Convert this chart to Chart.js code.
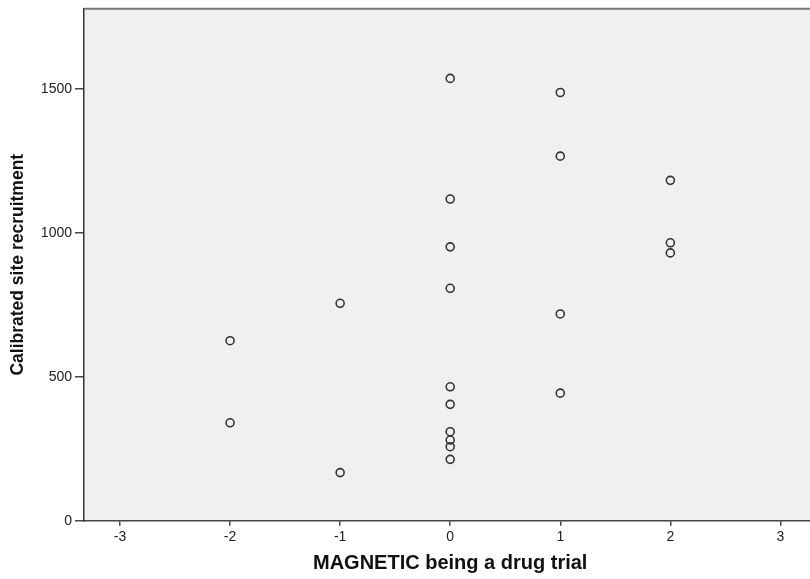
<!DOCTYPE html>
<html><head><meta charset="utf-8">
<script src="https://cdn.jsdelivr.net/npm/chart.js@4"></script>
<style>html,body{margin:0;padding:0;background:#fff;overflow:hidden}#wrap{width:822px;height:579px;overflow:hidden}</style>
</head><body><div id="wrap"><canvas id="c" width="822" height="579"></canvas></div>
<script>
const trialValues = [-2,-2,-1,-1,0,0,0,0,0,0,0,0,0,0,1,1,1,1,2,2,2];
const recruitment = [625,340,755,167,1536,1117,951,807,465,404,309,280,257,213,1487,1266,718,443,1182,965,930];
const xTicks = [-3,-2,-1,0,1,2,3];
const yTicks = [0,500,1000,1500];

const points = trialValues.map((x,i)=>({x:x,y:recruitment[i]}));

const bgPlugin = {
  id:'bg',
  beforeDraw(chart){
    const {ctx, chartArea:a} = chart;
    ctx.save();
    ctx.fillStyle = '#f0f0f0';
    ctx.fillRect(a.left, a.top, a.right-a.left, a.bottom-a.top);
    ctx.restore();
  },
  afterDraw(chart){
    const {ctx, chartArea:a} = chart;
    ctx.save();
    ctx.strokeStyle = '#777';
    ctx.lineWidth = 2;
    ctx.beginPath();
    ctx.moveTo(a.left, a.top);
    ctx.lineTo(a.right, a.top);
    ctx.stroke();
    ctx.restore();
  }
};

new Chart(document.getElementById('c'), {
  type:'scatter',
  data:{datasets:[{
    data:points,
    pointRadius:4,
    pointHoverRadius:4,
    borderWidth:1.6,
    borderColor:'#333',
    backgroundColor:'rgba(0,0,0,0)'
  }]},
  options:{
    responsive:false,
    animation:false,
    layout:{padding:{top:8.7,left:0,right:0,bottom:0}},
    plugins:{legend:{display:false},tooltip:{enabled:false}},
    scales:{
      x:{
        type:'linear', min:-3.327, max:3.327,
        afterBuildTicks:s=>{s.ticks = xTicks.map(v=>({value:v}));},
        afterFit:s=>{s.height = 58.3; s.paddingLeft = 0; s.paddingRight = 0;},
        grid:{display:true, drawOnChartArea:false, drawTicks:true, tickLength:5, color:'#444', lineWidth:1.5},
        border:{display:true, color:'#444', width:1.5},
        ticks:{color:'#222', padding:3, maxRotation:0, autoSkip:false, font:{family:'Liberation Sans', size:14}, callback:v=>String(v)},
        title:{display:true, text:'MAGNETIC being a drug trial', color:'#111', font:{family:'Liberation Sans', size:20, weight:'bold', lineHeight:1}, padding:{top:0,bottom:6}}
      },
      y:{
        type:'linear', min:0, max:1778,
        afterBuildTicks:s=>{s.ticks = yTicks.map(v=>({value:v}));},
        afterFit:s=>{s.width = 84; s.paddingTop = 0; s.paddingBottom = 0;},
        grid:{display:true, drawOnChartArea:false, drawTicks:true, tickLength:9, color:'#444', lineWidth:1.5},
        border:{display:true, color:'#333', width:1.5},
        ticks:{color:'#222', padding:3, autoSkip:false, font:{family:'Liberation Sans', size:14}, callback:v=>String(v)},
        title:{display:true, text:'Calibrated site recruitment', color:'#111', font:{family:'Liberation Sans', size:17.5, weight:'bold', lineHeight:1}, padding:{top:9.5,bottom:0}}
      }
    }
  },
  plugins:[bgPlugin]
});
</script>
</body></html>
